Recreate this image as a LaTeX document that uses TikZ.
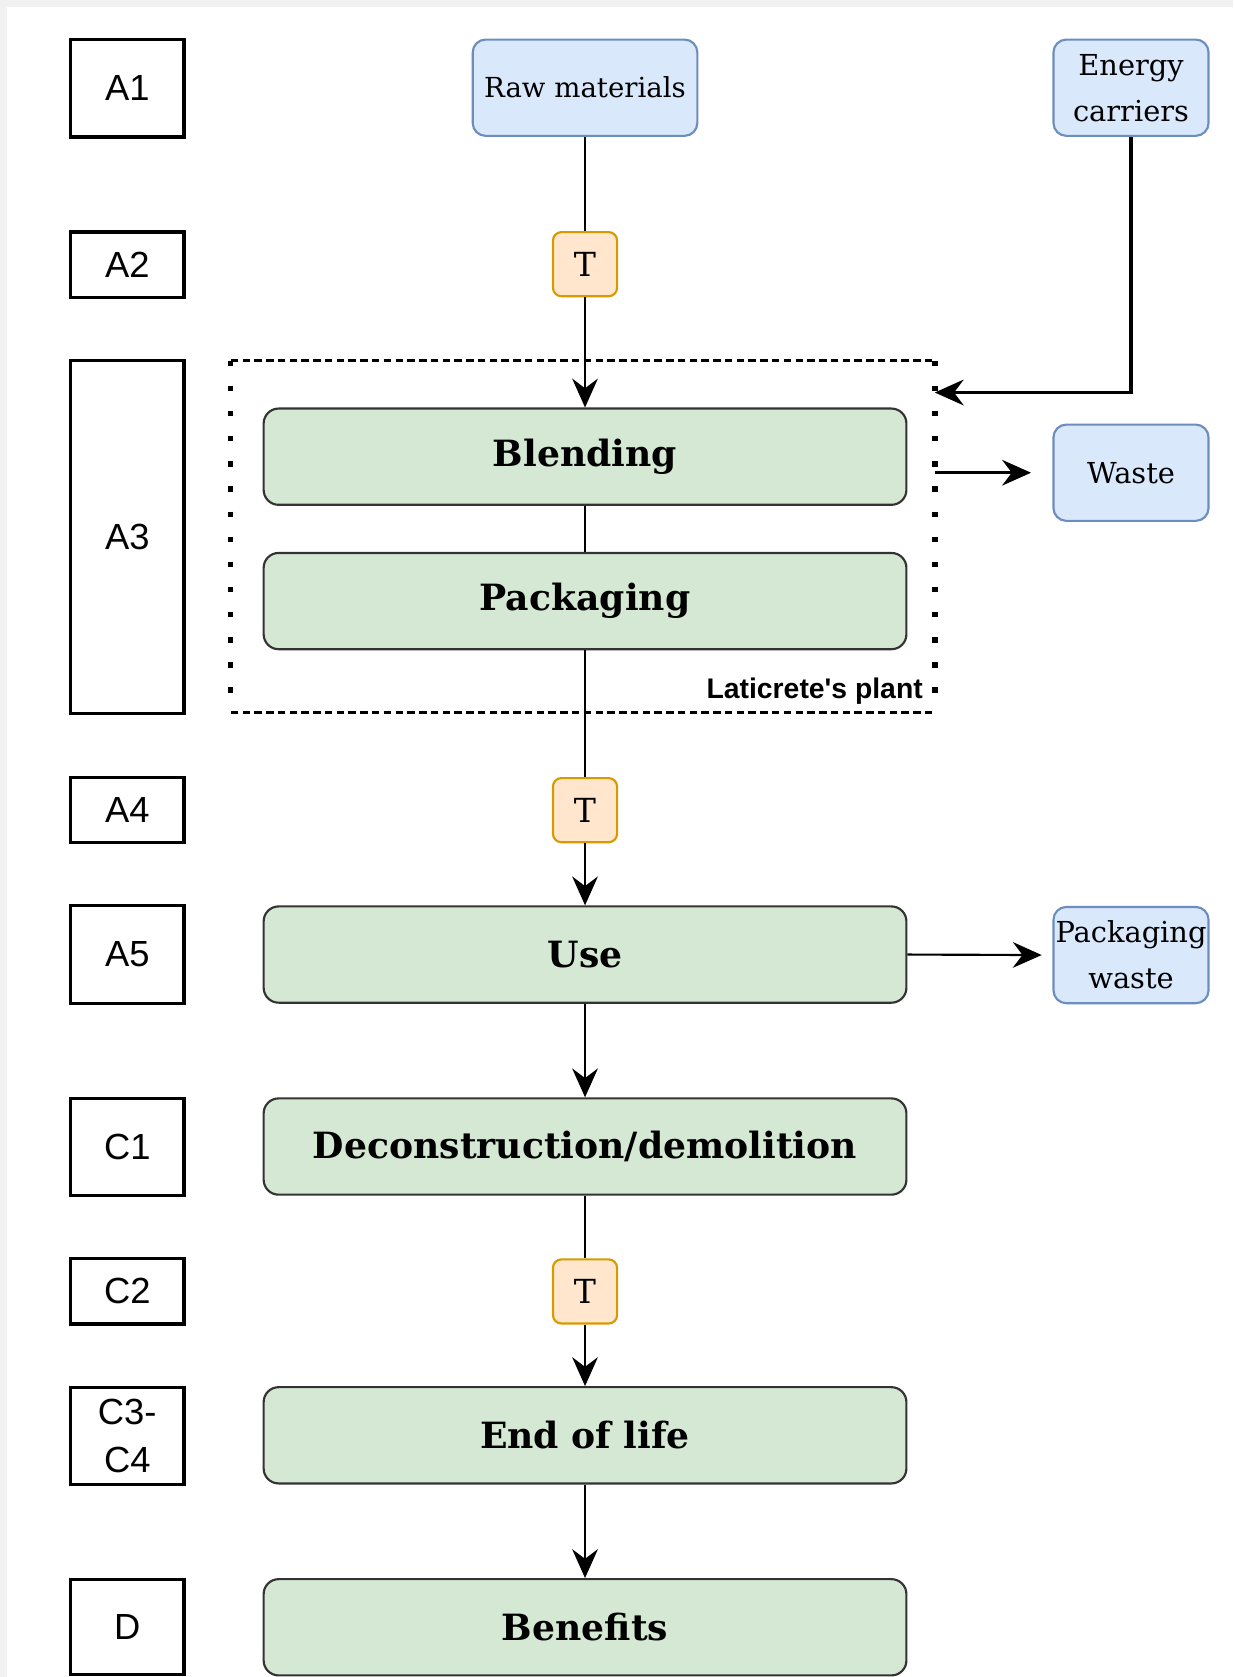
\documentclass[tikz,border=0pt]{standalone}
\usepackage{fontspec}
\setmainfont{DejaVu Serif}
\newfontfamily\arialf[Ligatures=TeXOff]{Liberation Sans}
\usetikzlibrary{arrows.meta}
\definecolor{gfill}{HTML}{D5E8D4}
\definecolor{gline}{HTML}{333333}
\definecolor{bfill}{HTML}{DAE8FC}
\definecolor{bline}{HTML}{6C8EBF}
\definecolor{ofill}{HTML}{FFE6CC}
\definecolor{oline}{HTML}{D79B00}
\definecolor{bggray}{HTML}{F1F1F1}
\begin{document}
\begin{tikzpicture}[x=1pt,y=-1pt,
  lbl/.style={draw=black, line width=3pt, fill=white, minimum width=106pt, inner sep=0pt, align=center, font=\arialf\fontsize{34}{45}\selectfont},
  stage/.style={draw=gline, line width=2pt, fill=gfill, rounded corners=14pt, minimum width=601pt, minimum height=90pt, inner sep=0pt, font=\bfseries\fontsize{33.8}{38}\selectfont},
  io/.style={draw=bline, line width=2pt, fill=bfill, rounded corners=12pt, minimum height=90pt, inner sep=0pt, align=center, font=\fontsize{27}{43}\selectfont},
  tbox/.style={draw=oline, line width=2pt, fill=ofill, rounded corners=8pt, minimum width=60pt, minimum height=60pt, inner sep=0pt, font=\fontsize{31}{36}\selectfont},
  conn/.style={draw=black, line width=2pt},
  arr/.style={conn, -{Stealth[length=27pt,width=24pt,inset=9pt]}},
  hdash/.style={line width=3pt, dash pattern=on 7pt off 4pt},
  vdot/.style={line width=5pt, dash pattern=on 5pt off 18.5pt},
]
\useasboundingbox (0,0) rectangle (1153,1568);
\fill[bggray] (0,0) rectangle (1153,1568);
\fill[white] (7,7) rectangle (1153,1568);

% stage labels
\node[lbl, minimum height=91pt] (A1) at (119,82.5) {A1};
\node[lbl, minimum height=61pt] (A2) at (119,247.5) {A2};
\node[lbl, minimum height=330pt] (A3) at (119,502) {A3};
\node[lbl, minimum height=61pt] (A4) at (119,757.5) {A4};
\node[lbl, minimum height=91pt] (A5) at (119,892.5) {A5};
\node[lbl, minimum height=91pt] (C1) at (119,1072.5) {C1};
\node[lbl, minimum height=61pt] (C2) at (119,1207.5) {C2};
\node[lbl, minimum height=91pt] (C34) at (119,1342.5) {C3-\\C4};
\node[lbl, minimum height=89pt] (D) at (119,1521.5) {D};

% plant boundary
\node[minimum width=658pt, minimum height=328.5pt, inner sep=0pt] (plant) at (545,501.75) {};
\draw[hdash] (plant.north west) -- (plant.north east);
\draw[hdash] (plant.south west) -- (plant.south east);
\draw[vdot] (plant.north west) -- (plant.south west);
\draw[vdot] (plant.north east) -- (plant.south east);
\node[anchor=base east, inner sep=0pt, font=\arialf\bfseries\fontsize{26.5}{30}\selectfont] (plantlbl) at (863,653) {Laticrete's plant};

% inputs / outputs
\node[io, minimum width=210pt, font=\fontsize{25.8}{40}\selectfont] (raw) at (547,82) {Raw materials};
\node[io, minimum width=145pt] (energy) at (1057.5,82) {Energy\\carriers};
\node[io, minimum width=145pt] (waste) at (1057.5,442) {Waste};
\node[io, minimum width=145pt] (pwaste) at (1057.5,893) {Packaging\\waste};

% transport
\node[tbox] (t1) at (547,247) {T};
\node[tbox] (t2) at (547,757.5) {T};
\node[tbox] (t3) at (547,1207.5) {T};

% process stages
\node[stage] (blend) at (547,427) {Blending};
\node[stage] (pack) at (547,562) {Packaging};
\node[stage] (use) at (547,892.5) {Use};
\node[stage] (decon) at (547,1072) {Deconstruction/demolition};
\node[stage] (eol) at (547,1342) {End of life};
\node[stage] (ben) at (547,1521.5) {Benefits};

% connectors
\draw[conn] (raw.south -| t1) -- (t1.north);
\draw[arr] (t1.south) -- (blend.north -| t1);
\draw[conn] (blend) -- (pack);
\draw[conn] (pack.south -| t2) -- (t2.north);
\draw[arr] (t2.south) -- (use.north -| t2);
\draw[arr] (use) -- (decon);
\draw[conn] (decon.south -| t3) -- (t3.north);
\draw[arr] (t3.south) -- (eol.north -| t3);
\draw[arr] (eol) -- (ben);
\draw[arr, shorten >=10pt] (use.east) -- (pwaste.west);
\coordinate (ein) at (874,367);
\coordinate (wout) at (874,442);
\draw[arr, line width=3pt] (energy.south) |- (ein);
\draw[arr, line width=3pt, shorten >=20pt] (wout) -- (waste.west);
\end{tikzpicture}
\end{document}
